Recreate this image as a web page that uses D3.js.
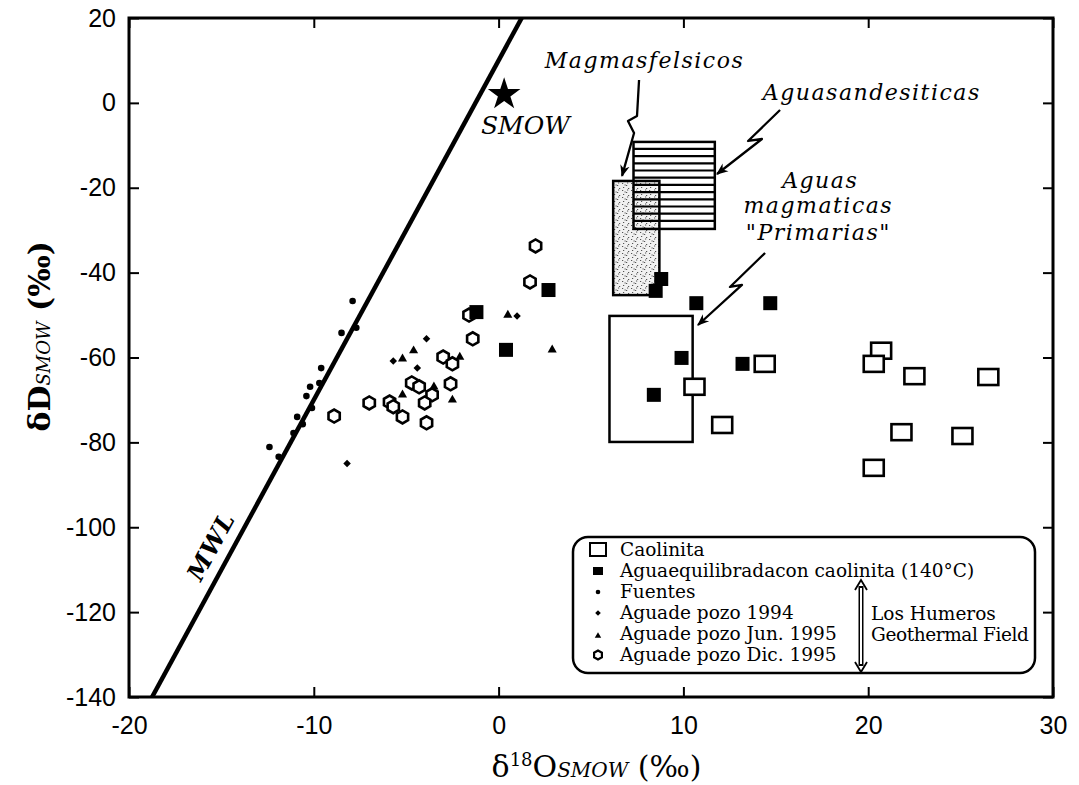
<!DOCTYPE html>
<html>
<head>
<meta charset="utf-8">
<script src="https://cdn.jsdelivr.net/npm/d3@7"></script>
<style>
  body { margin: 0; background: #fff; }
  text { fill: #000; }
</style>
</head>
<body>
<svg id="chart" width="1079" height="785"></svg>
<script>
// THE DATA
const xTicks = [-20, -10, 0, 10, 20, 30];
const yTicks = [20, 0, -20, -40, -60, -80, -100, -120, -140];

// meteoric water line: dD = 8 d18O + 10
const mwlX = [-18.75, 1.25];
const mwlSlope = 8, mwlIntercept = 10;

// caolinita (open squares)
const caolX = [10.6, 14.4, 12.1, 20.7, 20.3, 22.5, 26.5, 21.8, 25.1, 20.3];
const caolY = [-66.9, -61.5, -75.9, -58.4, -61.5, -64.4, -64.6, -77.6, -78.5, -86.0];

// agua equilibrada con caolinita (filled squares)
const eqX = [-1.2, 2.7, 0.4, 8.8, 8.5, 10.7, 14.7, 9.9, 8.4, 13.2];
const eqY = [-49.3, -44.1, -58.2, -41.5, -44.3, -47.2, -47.2, -60.1, -68.8, -61.5];

// fuentes (small dots)
const fuenX = [-7.9, -8.5, -7.7, -9.6, -10.2, -9.7, -10.4, -10.1, -10.9, -10.6, -11.1, -12.4, -11.9];
const fuenY = [-46.7, -54.2, -53.0, -62.5, -66.9, -66.0, -69.1, -71.9, -74.0, -75.7, -77.8, -81.1, -83.4];

// agua de pozo 1994 (diamonds)
const p94X = [-3.9, -5.7, -4.4, -8.2, 1.0];
const p94Y = [-55.6, -60.8, -62.5, -85.0, -50.2];

// agua de pozo jun 1995 (triangles)
const pJunX = [-5.2, 0.5, -2.1, -3.5, -5.2, -2.5, 2.9, -4.6];
const pJunY = [-60.3, -50.0, -59.9, -66.9, -68.8, -70.0, -58.2, -58.4];

// agua de pozo dic 1995 (open hexagons)
const pDicX = [-1.4, -3.0, -2.5, -4.7, -4.3, -2.6, -3.6, -7.0, -5.9, -5.7, -4.0, -5.2, -3.9, -8.9, -1.6, 2.0, 1.7];
const pDicY = [-55.6, -59.9, -61.5, -66.0, -66.9, -66.2, -68.8, -70.7, -70.5, -71.6, -70.7, -74.0, -75.4, -73.8, -50.0, -33.7, -42.2];

// fields: [x0, x1, y0, y1]
const felsicBox = [6.2, 8.7, -18.4, -45.3];
const andesBox = [7.3, 11.7, -9.2, -29.7];
const primBox = [6.0, 10.5, -50.2, -79.9];
const smow = [0.3, 2];

// legend labels
const legLabels = ["Caolinita", "Aguaequilibradacon caolinita (140°C)", "Fuentes",
  "Aguade pozo 1994", "Aguade pozo Jun. 1995", "Aguade pozo Dic. 1995"];

// SETUP
const svg = d3.select("#chart");
const mLeft = 129, mRight = 1053, mTop = 18, mBottom = 697;

const x = d3.scaleLinear().domain([-20, 30]).range([mLeft, mRight]);
const y = d3.scaleLinear().domain([-140, 20]).range([mBottom, mTop]);

const serif = "'DejaVu Serif', 'Liberation Serif', serif";
const sans = "'Liberation Sans', Arial, sans-serif";

const defs = svg.append("defs");
defs.append("clipPath").attr("id", "plotClip")
  .append("rect").attr("x", mLeft).attr("y", mTop)
  .attr("width", mRight - mLeft).attr("height", mBottom - mTop);

// stipple for felsic magmas
const stip = defs.append("pattern").attr("id", "stipple")
  .attr("patternUnits", "userSpaceOnUse").attr("width", 9).attr("height", 7);
stip.append("rect").attr("width", 9).attr("height", 7).attr("fill", "#f1f1f1");
[[1, 1], [5, 3], [2, 5], [7, 6], [6, 0.5], [3.5, 2.5]].forEach(p =>
  stip.append("rect").attr("x", p[0]).attr("y", p[1]).attr("width", 1.2).attr("height", 1)
    .attr("fill", "#555"));

// arrow head
defs.append("marker").attr("id", "head2")
  .attr("viewBox", "0 0 10 10").attr("refX", 9).attr("refY", 5)
  .attr("markerWidth", 12).attr("markerHeight", 12).attr("orient", "auto-start-reverse")
  .attr("markerUnits", "userSpaceOnUse")
  .append("path").attr("d", "M0,1 L10,5 L0,9 L3,5 z").attr("fill", "#000");

// AXES (ticks pointing inwards on all sides)
const gx = svg.append("g").attr("transform", `translate(0,${mBottom})`)
  .call(d3.axisBottom(x).tickValues(xTicks).tickSize(-10).tickSizeOuter(0)
    .tickPadding(19).tickFormat(d => String(d)));
svg.append("g").attr("transform", `translate(0,${mTop})`)
  .call(d3.axisTop(x).tickValues(xTicks).tickSize(-10).tickSizeOuter(0).tickFormat(""));
const gy = svg.append("g").attr("transform", `translate(${mLeft},0)`)
  .call(d3.axisLeft(y).tickValues(yTicks).tickSize(-10).tickSizeOuter(0)
    .tickPadding(13).tickFormat(d => String(d)));
svg.append("g").attr("transform", `translate(${mRight},0)`)
  .call(d3.axisRight(y).tickValues(yTicks).tickSize(-10).tickSizeOuter(0).tickFormat(""));

svg.selectAll(".domain").remove();
svg.selectAll(".tick line").attr("stroke", "#000").attr("stroke-width", 2);
[gx, gy].forEach(g => g.selectAll(".tick text")
  .attr("font-family", sans).attr("font-size", 25).attr("fill", "#000"));

svg.append("rect")
  .attr("x", mLeft).attr("y", mTop)
  .attr("width", mRight - mLeft).attr("height", mBottom - mTop)
  .attr("fill", "none").attr("stroke", "#000").attr("stroke-width", 3);

// axis titles
const xt = svg.append("text").attr("x", x(5.3)).attr("y", 777)
  .attr("text-anchor", "middle").attr("font-family", serif).attr("font-size", 30);
xt.append("tspan").text("δ");
xt.append("tspan").attr("font-size", 18).attr("dy", -11).text("18");
xt.append("tspan").attr("dy", 11).text("O");
xt.append("tspan").attr("font-size", 20).attr("font-style", "italic").text("SMOW");
xt.append("tspan").text(" (‰)");

const yt = svg.append("text")
  .attr("transform", `translate(50,${y(-55)}) rotate(-90)`)
  .attr("text-anchor", "middle").attr("font-family", serif).attr("font-size", 30)
  .attr("font-weight", "bold");
yt.append("tspan").text("δD");
yt.append("tspan").attr("font-size", 18).attr("font-style", "italic").attr("font-weight", "normal").text("SMOW");
yt.append("tspan").text(" (‰)");

// PLOT CONTENT
const plot = svg.append("g").attr("clip-path", "url(#plotClip)");

// felsic and andesitic fields
plot.append("rect")
  .attr("x", x(felsicBox[0])).attr("y", y(felsicBox[2]))
  .attr("width", x(felsicBox[1]) - x(felsicBox[0])).attr("height", y(felsicBox[3]) - y(felsicBox[2]))
  .attr("fill", "url(#stipple)");

const hatchY = d3.range(y(andesBox[2]) + 7, y(andesBox[3]) - 2, 7.2);
plot.append("g").selectAll("line").data(hatchY).join("line")
  .attr("x1", x(andesBox[0])).attr("x2", x(andesBox[1]))
  .attr("y1", d => d).attr("y2", d => d)
  .attr("stroke", "#000").attr("stroke-width", 2.2);

[felsicBox, andesBox, primBox].forEach(b => {
  plot.append("rect")
    .attr("x", x(b[0])).attr("y", y(b[2]))
    .attr("width", x(b[1]) - x(b[0])).attr("height", y(b[3]) - y(b[2]))
    .attr("fill", "none").attr("stroke", "#000").attr("stroke-width", 2.5);
});

// MWL
plot.append("line")
  .attr("x1", x(mwlX[0])).attr("y1", y(mwlSlope * mwlX[0] + mwlIntercept))
  .attr("x2", x(mwlX[1])).attr("y2", y(mwlSlope * mwlX[1] + mwlIntercept))
  .attr("stroke", "#000").attr("stroke-width", 4.5);

const ang = Math.atan2(y(mwlSlope * mwlX[1]) - y(mwlSlope * mwlX[0]), x(mwlX[1]) - x(mwlX[0])) * 180 / Math.PI;
svg.append("text")
  .attr("transform", `translate(${x(-15.9) - 4},${y(-113)}) rotate(${ang})`)
  .attr("font-family", serif).attr("font-size", 24).attr("font-style", "italic")
  .attr("font-weight", "bold").attr("letter-spacing", 1)
  .text("MWL");

// SMOW star
plot.append("path")
  .attr("transform", `translate(${x(smow[0])},${y(smow[1])})`)
  .attr("d", d3.symbol(d3.symbolStar, 330)());
svg.append("text").attr("x", x(1.45)).attr("y", y(-7.4))
  .attr("text-anchor", "middle").attr("font-family", serif).attr("font-style", "italic")
  .attr("font-size", 25).text("SMOW");

// markers
const zip = (a, b) => a.map((v, i) => [v, b[i]]);
const hexPath = r => d3.line()(d3.range(6).map(i => {
  const t = Math.PI / 6 + i * Math.PI / 3;
  return [r * Math.cos(t), r * Math.sin(t)];
})) + "Z";

plot.append("g").selectAll("path").data(zip(pDicX, pDicY)).join("path")
  .attr("transform", d => `translate(${x(d[0])},${y(d[1])})`)
  .attr("d", hexPath(6.5)).attr("fill", "#fff").attr("stroke", "#000").attr("stroke-width", 2.6);

plot.append("g").selectAll("circle").data(zip(fuenX, fuenY)).join("circle")
  .attr("cx", d => x(d[0])).attr("cy", d => y(d[1])).attr("r", 3.3).attr("fill", "#000");

plot.append("g").selectAll("path").data(zip(p94X, p94Y)).join("path")
  .attr("transform", d => `translate(${x(d[0])},${y(d[1])})`)
  .attr("d", d3.symbol(d3.symbolDiamond2, 36)()).attr("fill", "#000");

plot.append("g").selectAll("path").data(zip(pJunX, pJunY)).join("path")
  .attr("transform", d => `translate(${x(d[0])},${y(d[1])})`)
  .attr("d", d3.symbol(d3.symbolTriangle, 36)()).attr("fill", "#000");

plot.append("g").selectAll("rect").data(zip(eqX, eqY)).join("rect")
  .attr("x", d => x(d[0]) - 7).attr("y", d => y(d[1]) - 7)
  .attr("width", 14).attr("height", 14).attr("fill", "#000");

plot.append("g").selectAll("rect").data(zip(caolX, caolY)).join("rect")
  .attr("x", d => x(d[0]) - 10).attr("y", d => y(d[1]) - 8)
  .attr("width", 20).attr("height", 16)
  .attr("fill", "#fff").attr("stroke", "#000").attr("stroke-width", 2.6);

// ANNOTATIONS (lightning arrows, in data units)
const arrows = [
  [[7.60, 5.39], [7.49, -3.09], [7.00, -4.27], [7.33, -7.10], [6.68, -17.2]],
  [[15.23, -1.68], [13.50, -8.98], [14.25, -8.51], [11.82, -16.76]],
  [[14.42, -35.37], [12.52, -43.38], [13.17, -42.91], [10.79, -52.34]]
];
const aline = d3.line().x(d => x(d[0])).y(d => y(d[1]));
svg.append("g").selectAll("path").data(arrows).join("path")
  .attr("d", aline).attr("fill", "none").attr("stroke", "#000")
  .attr("stroke-width", 2.3).attr("stroke-linejoin", "round")
  .attr("marker-end", "url(#head2)");

const lab = (txt, xv, yv, anchor) => svg.append("text")
  .attr("x", x(xv)).attr("y", y(yv)).attr("text-anchor", anchor || "start")
  .attr("font-family", serif).attr("font-style", "italic").attr("font-size", 22)
  .attr("letter-spacing", 1.5).text(txt);
lab("Magmasfelsicos", 2.5, 8.2);
lab("Aguasandesiticas", 14.3, 0.7);
lab("Aguas", 17.4, -20.1, "middle");
lab("magmaticas", 17.3, -26.0, "middle");
lab("\"Primarias\"", 17.3, -32.3, "middle");

// LEGEND
const lg = svg.append("g");
lg.append("rect").attr("x", 573).attr("y", 537).attr("width", 462).attr("height", 136)
  .attr("rx", 15).attr("fill", "#fff").attr("stroke", "#000").attr("stroke-width", 2.5);

const rowBase = i => 556 + i * 21;
const mx = 598;
lg.selectAll("text.row").data(legLabels).join("text").attr("class", "row")
  .attr("x", 620).attr("y", (d, i) => rowBase(i))
  .attr("font-family", serif).attr("font-size", 18.5).text(d => d);

const rowMid = i => rowBase(i) - 6;
lg.append("rect").attr("x", mx - 8).attr("y", rowMid(0) - 7).attr("width", 16).attr("height", 13)
  .attr("fill", "#fff").attr("stroke", "#000").attr("stroke-width", 2);
lg.append("rect").attr("x", mx - 5).attr("y", rowMid(1) - 4).attr("width", 10).attr("height", 8)
  .attr("fill", "#000");
lg.append("circle").attr("cx", mx).attr("cy", rowMid(2)).attr("r", 2.3).attr("fill", "#000");
lg.append("path").attr("transform", `translate(${mx},${rowMid(3)})`)
  .attr("d", d3.symbol(d3.symbolDiamond2, 20)());
lg.append("path").attr("transform", `translate(${mx},${rowMid(4) + 2})`)
  .attr("d", d3.symbol(d3.symbolTriangle, 18)());
lg.append("path").attr("transform", `translate(${mx},${rowMid(5)})`)
  .attr("d", hexPath(4.5)).attr("fill", "#fff").attr("stroke", "#000").attr("stroke-width", 2.2);

// double arrow and field name
lg.append("line").attr("x1", 861).attr("x2", 861).attr("y1", 586).attr("y2", 666)
  .attr("stroke", "#000").attr("stroke-width", 5);
lg.append("line").attr("x1", 861).attr("x2", 861).attr("y1", 588).attr("y2", 664)
  .attr("stroke", "#fff").attr("stroke-width", 2);
lg.append("path").attr("d", "M855,590 L861,580 L867,590").attr("fill", "none")
  .attr("stroke", "#000").attr("stroke-width", 1.8);
lg.append("path").attr("d", "M855,662 L861,672 L867,662").attr("fill", "none")
  .attr("stroke", "#000").attr("stroke-width", 1.8);
lg.append("text").attr("x", 871).attr("y", 620).attr("font-family", serif).attr("font-size", 18.5)
  .text("Los Humeros");
lg.append("text").attr("x", 871).attr("y", 641).attr("font-family", serif).attr("font-size", 18.5)
  .attr("letter-spacing", -0.4).text("Geothermal Field");
</script>
</body>
</html>
